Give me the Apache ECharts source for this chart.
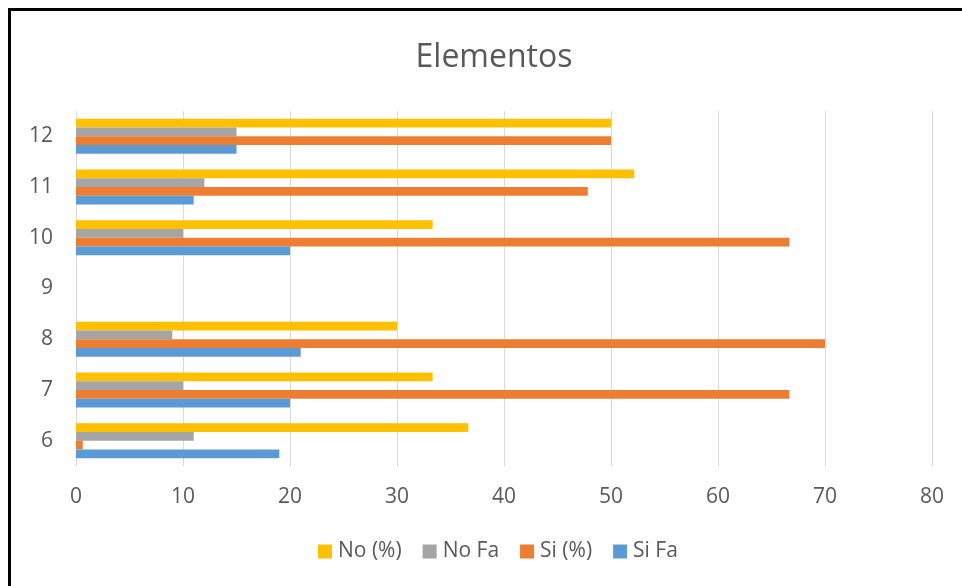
<!DOCTYPE html>
<html>
<head>
<meta charset="utf-8">
<script src="https://cdn.jsdelivr.net/npm/echarts@6/dist/echarts.min.js"></script>
<style>
html,body{margin:0;padding:0;background:#fff;}
#chart{width:962px;height:586px;}
</style>
</head>
<body>
<div id="chart"></div>
<script>
var categories = ['6', '7', '8', '9', '10', '11', '12'];
var siFa = [19, 20, 21, null, 20, 11, 15];
var siPct = [0.63, 66.67, 70, null, 66.67, 47.83, 50];
var noFa = [11, 10, 9, null, 10, 12, 15];
var noPct = [36.67, 33.33, 30, null, 33.33, 52.17, 50];
var xTicks = [0, 10, 20, 30, 40, 50, 60, 70, 80];

var FONT = '"Open Sans", sans-serif';
var chart = echarts.init(document.getElementById('chart'), null, {renderer: 'canvas'});
chart.setOption({
  backgroundColor: '#ffffff',
  animation: false,
  legend: {
    data: ['No (%)', 'No Fa', 'Si (%)', 'Si Fa'],
    top: 541,
    left: 318,
    padding: 0,
    itemWidth: 14,
    itemHeight: 14,
    itemGap: 21,
    icon: 'rect',
    textStyle: {fontFamily: FONT, fontSize: 21, color: '#595959', padding: [0, 0, 0, 1]}
  },
  grid: {left: 76, right: 30, top: 111, bottom: 120},
  xAxis: {
    type: 'value',
    min: xTicks[0],
    max: xTicks[xTicks.length - 1],
    interval: 10,
    axisLine: {show: false},
    axisTick: {show: false},
    splitLine: {show: true, lineStyle: {color: '#d9d9d9', width: 1}},
    axisLabel: {fontFamily: FONT, fontSize: 21, color: '#595959', margin: 21}
  },
  yAxis: {
    type: 'category',
    data: categories,
    axisLine: {show: false},
    axisTick: {show: false},
    axisLabel: {fontFamily: FONT, fontSize: 21, color: '#595959', margin: 23}
  },
  graphic: [{
    type: 'text',
    x: 494,
    y: 58,
    style: {
      text: 'Elementos',
      fontFamily: FONT,
      fontSize: 32,
      fill: '#595959',
      textAlign: 'center',
      textVerticalAlign: 'middle'
    },
    silent: true
  }, {
    type: 'rect',
    shape: {x: 9.5, y: 9.5, width: 1000, height: 1000},
    style: {fill: 'none', stroke: '#000000', lineWidth: 3},
    silent: true,
    z: 100
  }],
  series: [
    {name: 'No (%)', type: 'bar', data: noPct, itemStyle: {color: '#FFC000'}, barGap: '0%', barCategoryGap: '31%'},
    {name: 'No Fa', type: 'bar', data: noFa, itemStyle: {color: '#A5A5A5'}, barGap: '0%', barCategoryGap: '31%'},
    {name: 'Si (%)', type: 'bar', data: siPct, itemStyle: {color: '#ED7D31'}, barGap: '0%', barCategoryGap: '31%'},
    {name: 'Si Fa', type: 'bar', data: siFa, itemStyle: {color: '#5B9BD5'}, barGap: '0%', barCategoryGap: '31%'}
  ]
});
</script>
</body>
</html>
